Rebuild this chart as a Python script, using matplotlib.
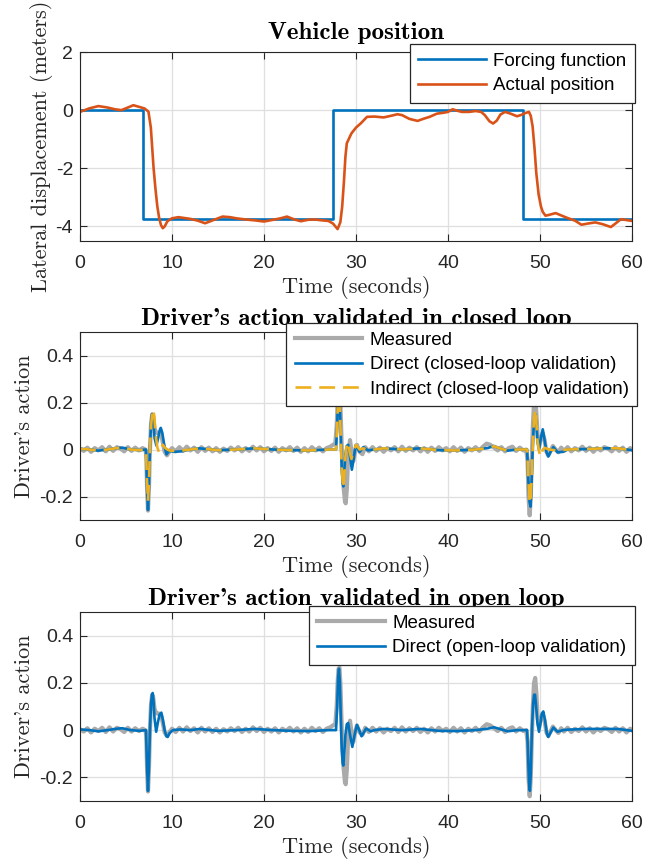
import matplotlib
matplotlib.use('Agg')
import matplotlib.pyplot as plt

plt.rcParams['axes.unicode_minus'] = False
plt.rcParams['font.family'] = ['Liberation Sans', 'DejaVu Sans']

# ---- vehicle position ----
force_t = [0, 6.8, 27.5, 48.2, 60]
force_y = [0, -3.75, 0, -3.75, -3.75]

pos_t = [0, 1, 2, 3, 3.8, 4.5, 5.2, 5.8, 7.0, 7.44, 7.7, 7.85, 8.0, 8.2, 8.4, 8.6, 8.8,
         9.0, 9.2, 9.5, 10.0, 10.7, 12.0, 12.8, 13.6, 14.5, 15.5, 16.3, 17.0, 18.0,
         19.0, 20.0, 21.0, 21.8, 22.5, 23.3, 24.0, 24.8, 25.5, 26.3, 27.0, 27.5, 28.0,
         28.3, 28.5, 28.7, 28.85, 29.0, 29.5, 30.0, 30.5, 31.2, 32.0, 33.0, 34.0, 34.5,
         35.0, 35.8, 36.7, 37.3, 38.0, 38.8, 39.5, 40.0, 40.5, 41.0, 41.5, 42.3, 43.0,
         43.6, 44.0, 44.5, 44.9, 45.3, 45.7, 46.2, 46.8, 47.5, 48.0, 48.4, 48.8, 49.0,
         49.2, 49.4, 49.6, 49.85, 50.1, 50.3, 50.6, 51.0, 51.7, 52.3, 53.0, 53.8, 54.5,
         55.2, 56.0, 56.8, 57.7, 58.2, 58.8, 59.4, 60.0]
pos_y = [-0.06, 0.06, 0.14, 0.09, 0.03, 0.0, 0.09, 0.17, 0.06, -0.05, -0.6, -1.3, -2.0,
         -2.7, -3.3, -3.7, -3.95, -4.06, -4.0, -3.82, -3.72, -3.68, -3.74, -3.8, -3.89,
         -3.78, -3.66, -3.68, -3.72, -3.76, -3.79, -3.83, -3.77, -3.72, -3.66, -3.76,
         -3.82, -3.77, -3.76, -3.79, -3.81, -3.9, -4.09, -3.85, -3.31, -2.4, -1.6, -1.14,
         -0.8, -0.6, -0.46, -0.23, -0.22, -0.25, -0.18, -0.14, -0.17, -0.3, -0.37, -0.3,
         -0.23, -0.12, -0.09, -0.06, 0.03, -0.02, -0.06, -0.06, -0.03, -0.06, -0.17,
         -0.38, -0.46, -0.36, -0.15, -0.06, -0.12, -0.21, -0.16, -0.1, -0.06, -0.2, -0.57,
         -1.3, -2.17, -2.9, -3.31, -3.5, -3.63, -3.6, -3.54, -3.62, -3.71, -3.8, -3.94,
         -3.9, -3.86, -3.92, -4.02, -3.9, -3.75, -3.78, -3.81]

# ---- measured driver action ----
meas_t = [0, 0.4, 0.8, 1.2, 1.6, 2.0, 2.4, 2.8, 3.2, 3.6, 4.0, 4.4, 4.8, 5.2, 5.6, 6.0,
          6.4, 6.8, 7.1, 7.2, 7.3, 7.39, 7.5, 7.6, 7.72, 7.85, 7.95, 8.1, 8.25, 8.4, 8.6,
          8.84, 9.0, 9.2, 9.45, 9.7,
          10.0, 10.4, 10.8, 11.2, 11.6, 12.0, 12.4, 12.8, 13.2, 13.6, 14.0, 14.4, 14.8,
          15.2, 15.6, 16.0, 16.4, 16.8, 17.2, 17.6, 18.0, 18.4, 18.8, 19.2, 19.6, 20.0,
          20.4, 20.8, 21.2, 21.6, 22.0, 22.4, 22.8, 23.2, 23.6, 24.0, 24.4, 24.8, 25.2,
          25.6, 26.0, 26.4, 26.8, 27.2, 27.5, 27.75,
          27.9, 28.0, 28.1, 28.2, 28.3, 28.4, 28.5, 28.65, 28.8, 28.88, 29.0, 29.15, 29.35,
          29.55, 29.7, 29.9, 30.1, 30.4, 30.7, 31.0, 31.4, 31.8,
          32.2, 32.6, 33.0, 33.4, 33.8, 34.2, 34.6, 35.0, 35.4, 35.8, 36.2, 36.6, 37.0,
          37.4, 37.8, 38.2, 38.6, 39.0, 39.4, 39.8, 40.2, 40.6, 41.0, 41.4, 41.8, 42.2,
          42.6, 43.0, 43.4, 43.8, 44.2, 44.6, 45.0, 45.4, 45.8, 46.2, 46.6, 47.0, 47.4,
          47.8, 48.2, 48.5,
          48.65, 48.75, 48.88, 49.0, 49.1, 49.22, 49.35, 49.48, 49.6, 49.75, 49.9, 50.1,
          50.3, 50.5, 50.7, 50.9, 51.1, 51.4, 51.7, 52.0, 52.3,
          52.6, 53.0, 53.4, 53.8, 54.2, 54.6, 55.0, 55.4, 55.8, 56.2, 56.6, 57.0, 57.4,
          57.8, 58.2, 58.6, 59.0, 59.4, 59.8, 60.0]
meas_v = [0.004, -0.006, 0.008, -0.01, 0.006, -0.004, 0.01, -0.008, 0.012, -0.006, 0.01,
          0.004, -0.008, 0.01, -0.006, 0.008, -0.004, 0.006, 0.0, -0.02, -0.18, -0.26,
          -0.16, 0.0, 0.11, 0.15, 0.14, 0.09, 0.075, 0.07, 0.07, 0.06, 0.03, -0.01,
          -0.025, -0.01,
          0.006, -0.008, 0.01, -0.006, 0.012, -0.004, 0.008, -0.01, 0.01, -0.006, 0.008,
          -0.008, 0.006, -0.01, 0.004, -0.006, 0.008, -0.004, 0.01, -0.008, 0.006, -0.006,
          0.012, -0.004, 0.01, -0.008, 0.006, -0.006, 0.008, -0.01, 0.006, -0.004, 0.01,
          -0.006, 0.008, -0.01, 0.006, -0.008, 0.01, -0.004, 0.008, -0.008, 0.006, 0.012,
          0.02, 0.025,
          0.1, 0.2, 0.26, 0.265, 0.2, 0.07, -0.05, -0.16, -0.22, -0.229, -0.17, -0.03,
          0.04, -0.02, -0.05, -0.01, 0.02, -0.01, -0.02, 0.01, -0.008, 0.01,
          -0.006, 0.008, -0.01, 0.006, -0.004, 0.01, -0.008, 0.012, -0.006, 0.008, -0.004,
          0.01, -0.008, 0.006, -0.01, 0.008, -0.006, 0.01, -0.004, 0.006, -0.008, 0.01,
          -0.006, 0.008, -0.01, 0.006, -0.004, 0.01, -0.006, 0.012, 0.025, 0.02, 0.008,
          -0.004, 0.01, -0.008, 0.006, 0.012, -0.006, 0.008, -0.004, 0.0,
          -0.05, -0.2, -0.28, -0.2, -0.05, 0.1, 0.2, 0.221, 0.16, 0.05, 0.01, 0.05, 0.07,
          0.04, -0.01, -0.025, -0.01, 0.015, 0.0, -0.012, 0.008,
          -0.006, 0.01, -0.008, 0.006, -0.004, 0.012, -0.006, 0.008, -0.01, 0.006, -0.004,
          0.01, 0.004, -0.008, 0.01, -0.006, 0.008, -0.01, 0.006, 0.0]

# ---- direct model, closed-loop validation ----
cl_t = [0, 1, 2, 3, 4, 4.6, 5.5, 6.5, 7.17, 7.28, 7.39, 7.5, 7.6, 7.72, 7.82, 7.9, 7.98,
        8.1, 8.3, 8.5, 8.65, 8.78, 8.95, 9.15, 9.4, 9.7, 10.2, 11, 12, 13, 15, 17, 19,
        21, 23, 25, 27, 27.83, 27.95, 28.05, 28.15, 28.25, 28.35, 28.45, 28.55, 28.62,
        28.72, 28.85, 29.0, 29.15, 29.35, 29.55, 29.75, 29.95, 30.4, 30.8, 31.3, 32, 33,
        35, 37, 39, 41, 43, 44.3, 45.0, 45.7, 46.5, 47.5, 48.6, 48.72, 48.85, 48.97,
        49.08, 49.2, 49.33, 49.46, 49.58, 49.72, 49.89, 50.1, 50.3, 50.5, 50.7, 50.9,
        51.15, 51.45, 51.9, 52.5, 53, 55, 57, 58.5, 60]
cl_v = [0.003, 0.0, -0.005, 0.0, 0.006, 0.008, 0.0, -0.003, 0.0, -0.15, -0.257, -0.15,
        0.0, 0.11, 0.15, 0.15, 0.12, 0.05, 0.017, 0.05, 0.08, 0.092, 0.07, 0.02, -0.021,
        -0.005, -0.01, -0.008, 0.0, 0.005, -0.003, 0.0, 0.005, 0.0, -0.003, -0.004, 0.0,
        0.0, 0.1, 0.22, 0.25, 0.19, 0.05, -0.08, -0.14, -0.157, -0.1, -0.02, 0.015, 0.02,
        -0.03, -0.086, -0.04, 0.018, -0.01, 0.01, -0.004, 0.0, 0.005, 0.0, 0.005, -0.003,
        -0.004, 0.0, 0.006, 0.015, 0.004, -0.005, 0.0, 0.0, -0.12, -0.22, -0.243, -0.15,
        0.0, 0.11, 0.15, 0.12, 0.04, 0.0, 0.05, 0.086, 0.04, -0.01, -0.03, -0.01, 0.01,
        -0.012, -0.01, 0.0, 0.002, 0.005, 0.005, -0.003]

# ---- indirect model, closed-loop validation ----
ind_t = [0, 1, 2, 3, 4, 4.6, 5.5, 6.5, 7.17, 7.28, 7.39, 7.5, 7.6, 7.72, 7.85, 7.97,
         8.08, 8.2, 8.4, 8.6, 8.8, 9.0, 9.3, 9.7, 10.2, 11, 12, 13, 15, 17, 19, 21, 23,
         25, 27, 27.83, 27.95, 28.05, 28.15, 28.25, 28.35, 28.45, 28.6, 28.72, 28.85,
         29.0, 29.15, 29.3, 29.5, 29.7, 30.0, 30.4, 30.8, 31.3, 32, 33, 35, 37, 39, 41,
         43, 44.3, 45.0, 45.7, 46.5, 47.5, 48.6, 48.72, 48.85, 48.95, 49.07, 49.2, 49.33,
         49.46, 49.58, 49.72, 49.9, 50.1, 50.3, 50.5, 51, 52, 53, 55, 57, 58.5, 60]
ind_v = [0.003, 0.0, -0.005, 0.0, 0.006, 0.008, 0.0, -0.003, 0.0, -0.13, -0.22, -0.14,
         0.0, 0.1, 0.15, 0.171, 0.14, 0.07, 0.01, -0.014, 0.0, 0.02, 0.005, -0.004,
         -0.006, -0.005, 0.0, 0.005, -0.003, 0.0, 0.005, 0.0, -0.003, -0.004, 0.0, 0.0,
         0.1, 0.21, 0.24, 0.18, 0.04, -0.08, -0.164, -0.12, -0.03, 0.025, 0.03, -0.01,
         -0.04, -0.01, 0.02, 0.0, 0.005, -0.002, 0.0, 0.005, 0.0, 0.005, -0.003, -0.004,
         0.0, 0.006, 0.014, 0.004, -0.005, 0.0, 0.0, -0.11, -0.21, -0.229, -0.14, 0.0,
         0.12, 0.171, 0.13, 0.04, -0.01, -0.03, 0.0, 0.007, 0.0, -0.005, 0.0, 0.002,
         0.005, 0.005, -0.003]

# ---- direct model, open-loop validation ----
ol_t = [0, 1, 2, 3, 4, 4.6, 5.5, 6.5, 7.17, 7.28, 7.39, 7.5, 7.6, 7.72, 7.82, 7.9,
        7.98, 8.1, 8.28, 8.45, 8.65, 8.84, 9.0, 9.2, 9.38, 9.53, 9.75, 10.1, 10.9, 12,
        13, 15, 17, 19, 21, 23, 25, 27, 27.83, 27.95, 28.05, 28.15, 28.25, 28.35, 28.45,
        28.55, 28.62, 28.72, 28.85, 29.0, 29.15, 29.35, 29.6, 29.85, 30.1, 30.35, 30.6,
        30.85, 31.1, 31.6, 32, 33, 35, 37, 39, 41, 43, 44.3, 45.0, 45.7, 46.5, 47.5,
        48.6, 48.7, 48.8, 48.9, 49.0, 49.12, 49.25, 49.36, 49.46, 49.58, 49.72, 49.89,
        50.05, 50.2, 50.36, 50.55, 50.75, 50.9, 51.15, 51.45, 51.9, 52.5, 53, 55, 57,
        58.5, 60]
ol_v = [0.003, 0.0, -0.005, 0.0, 0.006, 0.008, 0.0, -0.003, 0.0, -0.15, -0.257, -0.15,
        0.0, 0.11, 0.15, 0.157, 0.13, 0.05, -0.007, 0.03, 0.066, 0.074, 0.045, 0.0,
        -0.025, -0.029, -0.012, 0.0, 0.003, 0.0, 0.005, -0.003, 0.0, 0.005, 0.0, -0.003,
        -0.004, 0.0, 0.0, 0.1, 0.22, 0.26, 0.2, 0.05, -0.08, -0.14, -0.15, -0.1, -0.02,
        0.025, 0.03, -0.02, -0.071, -0.02, 0.022, 0.0, -0.026, -0.01, 0.007, -0.005, 0.0,
        0.005, 0.0, 0.005, -0.003, -0.004, 0.0, 0.006, 0.012, 0.004, -0.005, 0.0, 0.0,
        -0.1, -0.22, -0.257, -0.18, 0.0, 0.11, 0.15, 0.15, 0.1, 0.03, -0.007, 0.03,
        0.07, 0.079, 0.04, -0.015, -0.029, -0.01, 0.011, -0.007, 0.0, 0.002, 0.005,
        0.005, 0.005, -0.003]

BLUE = '#0072BD'
ORANGE = '#D95319'
YELLOW = '#EDB120'
GRAY = '#AAAAAA'
DARK = '#262626'

W, H = 663, 861
fig = plt.figure(figsize=(W / 100, H / 100), dpi=100)


def make_axes(top, bottom):
    ax = fig.add_axes([80 / W, 1 - bottom / H, 552 / W, (bottom - top) / H])
    ax.set_xlim(0, 60)
    ax.set_xticks(range(0, 61, 10))
    ax.grid(True, color='#DFDFDF', lw=0.9)
    ax.set_axisbelow(True)
    ax.tick_params(direction='in', length=5, width=0.8, colors=DARK, labelsize=14,
                   top=True, right=True)
    ax.tick_params(axis='x', pad=10)
    ax.tick_params(axis='y', pad=5)
    for s in ax.spines.values():
        s.set_color(DARK)
        s.set_linewidth(0.8)
    ax.set_xlabel('Time (seconds)', fontname='cmr10', fontsize=16, color=DARK, labelpad=3)
    return ax


def add_legend(ax, right, top):
    leg = ax.legend(loc='upper right', bbox_to_anchor=(right / W, 1 - top / H),
                    bbox_transform=fig.transFigure, borderaxespad=0, fontsize=13.5,
                    fancybox=False, framealpha=1, edgecolor=DARK, handlelength=3.6,
                    handletextpad=0.4, labelspacing=0.4, borderpad=0.45)
    leg.get_frame().set_linewidth(0.9)
    leg.set_zorder(10)
    for t in leg.get_texts():
        t.set_color('black')
    return leg


# top panel
ax1 = make_axes(52, 241)
ax1.plot(force_t, force_y, color=BLUE, lw=1.9, drawstyle='steps-post', label='Forcing function')
ax1.plot(pos_t, pos_y, color=ORANGE, lw=1.9, label='Actual position')
ax1.set_ylim(-4.5, 2)
ax1.set_yticks([-4, -2, 0, 2])
ax1.set_ylabel('Lateral displacement (meters)', fontname='cmr10', fontsize=16, color=DARK,
               labelpad=2)
ax1.set_title('Vehicle position', fontname='cmb10', fontsize=18, pad=9)
add_legend(ax1, 635, 44)

# middle panel
ax2 = make_axes(332, 520)
ax2.plot(meas_t, meas_v, color=GRAY, lw=3, label='Measured')
ax2.plot(cl_t, cl_v, color=BLUE, lw=1.9, label='Direct (closed-loop validation)')
ax2.plot(ind_t, ind_v, color=YELLOW, lw=1.9, dashes=(6, 3),
         label='Indirect (closed-loop validation)')
ax2.set_ylim(-0.3, 0.5)
ax2.set_yticks([-0.2, 0, 0.2, 0.4])
ax2.set_yticklabels(['-0.2', '0', '0.2', '0.4'])
ax2.set_ylabel("Driver's action", fontname='cmr10', fontsize=16, color=DARK, labelpad=4)
ax2.set_title("Driver's action validated in closed loop", fontname='cmb10', fontsize=18,
              pad=5)
add_legend(ax2, 637, 323)

# bottom panel
ax3 = make_axes(612, 801)
ax3.plot(meas_t, meas_v, color=GRAY, lw=3, label='Measured')
ax3.plot(ol_t, ol_v, color=BLUE, lw=1.9, label='Direct (open-loop validation)')
ax3.set_ylim(-0.3, 0.5)
ax3.set_yticks([-0.2, 0, 0.2, 0.4])
ax3.set_yticklabels(['-0.2', '0', '0.2', '0.4'])
ax3.set_ylabel("Driver's action", fontname='cmr10', fontsize=16, color=DARK, labelpad=4)
ax3.set_title("Driver's action validated in open loop", fontname='cmb10', fontsize=18,
              pad=5)
add_legend(ax3, 635, 606)

fig.savefig('out.png', dpi=100)
